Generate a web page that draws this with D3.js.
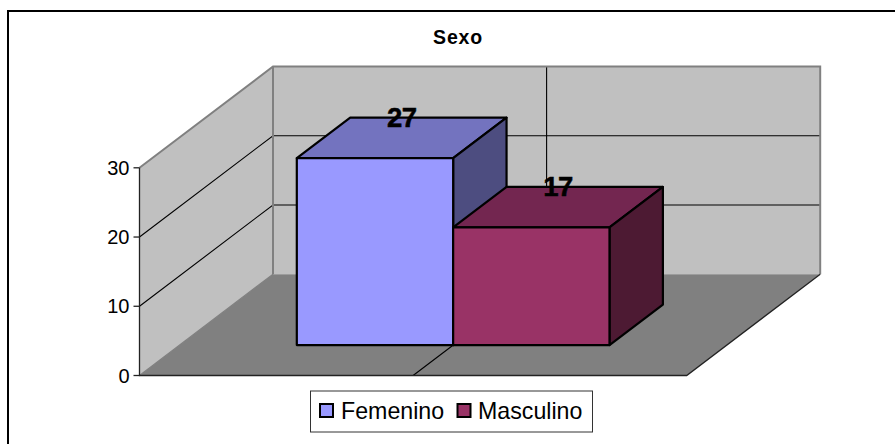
<!DOCTYPE html>
<html><head><meta charset="utf-8">
<script src="https://cdnjs.cloudflare.com/ajax/libs/d3/7.8.5/d3.min.js"></script>
<style>html,body{margin:0;padding:0;background:#fff}svg{display:block}text{font-family:"Liberation Sans",Arial,sans-serif;fill:#000}</style>
</head><body><svg id="c" width="895" height="444"></svg>
<script>
const chartTitle = "Sexo";
const seriesNames = ["Femenino", "Masculino"];
const seriesValues = [27, 17];
const yTicks = [0, 10, 20, 30];
const frontColors = ["#9999ff", "#993366"];
const topColors = ["#7373bf", "#732650"];
const sideColors = ["#4d4d80", "#4d1a33"];

const svg = d3.select("#c");
const y = d3.scaleLinear().domain([0, 30]).range([375.5, 167.8]);
const x = d3.scaleBand().domain(seriesNames).range([139.5, 686.7]).paddingInner(0).paddingOuter(0.75);
const depthX = d3.scaleLinear().domain([0, 1]).range([0, 133.5]);
const depthY = d3.scaleLinear().domain([0, 1]).range([0, -101.3]);
const barDepth = [0.3, 0.7];
const P = (px, v, d) => [px + depthX(d), y(v) + depthY(d)];
const path = pts => d3.line()(pts) + "Z";
const X0 = x.range()[0], X1 = x.range()[1], XM = (X0 + X1) / 2;

// frame (open on the right and bottom)
svg.append("path").attr("d", "M8,444V11H895").attr("fill", "none").attr("stroke", "#000").attr("stroke-width", 2);

// title
svg.append("text").attr("x", 458).attr("y", 44).attr("text-anchor", "middle")
  .attr("font-weight", "bold").attr("font-size", 19.5).attr("letter-spacing", 0.8).text(chartTitle);

// walls and floor
svg.append("path").attr("d", path([P(X0,0,1), P(X1,0,1), P(X1,30,1), P(X0,30,1)])).attr("fill", "#c0c0c0");
svg.append("path").attr("d", path([P(X0,0,0), P(X0,0,1), P(X0,30,1), P(X0,30,0)])).attr("fill", "#c0c0c0");
svg.append("path").attr("d", path([P(X0,0,0), P(X1,0,0), P(X1,0,1), P(X0,0,1)])).attr("fill", "#808080");

// gridlines
const grid = svg.append("g").attr("fill", "none").attr("stroke", "#000").attr("stroke-width", 1.1);
yTicks.filter(t => t > 0 && t < 30).forEach(t => {
  grid.append("path").attr("d", d3.line()([P(X0,t,0), P(X0,t,1), P(X1,t,1)]));
});
grid.append("path").attr("d", d3.line()([P(XM,0,0), P(XM,0,1), P(XM,30,1)]));

// wall outlines
const edge = svg.append("g").attr("fill", "none").attr("stroke", "#808080").attr("stroke-width", 2).attr("stroke-linejoin", "miter");
edge.append("path").attr("d", d3.line()([P(X0,30,0), P(X0,30,1), P(X1,30,1), P(X1,0,1)]));
edge.append("path").attr("d", d3.line()([P(X0,0,1), P(X0,30,1)]));
edge.append("path").attr("d", d3.line()([P(X0,0,0), P(X0,0,1)])).attr("stroke-width", 1.2);

// front axis and floor edge
const ax = svg.append("g").attr("fill", "none").attr("stroke", "#222").attr("stroke-width", 1.3);
ax.append("path").attr("d", d3.line()([P(X0,30,0), P(X0,0,0), P(X1,0,0), P(X1,0,1)]));
yTicks.forEach(t => {
  ax.append("line").attr("x1", X0 - 6).attr("x2", X0).attr("y1", y(t)).attr("y2", y(t));
  svg.append("text").attr("x", 129.5).attr("y", y(t) + 7).attr("text-anchor", "end").attr("font-size", 20).text(t);
});

// bars
seriesNames.forEach((name, i) => {
  const a = x(name), b = a + x.bandwidth(), v = seriesValues[i];
  const g = svg.append("g").attr("stroke", "#000").attr("stroke-width", 2.2).attr("stroke-linejoin", "round");
  const [d0, d1] = barDepth;
  g.append("path").attr("fill", topColors[i]).attr("d", path([P(a,v,d0), P(b,v,d0), P(b,v,d1), P(a,v,d1)]));
  g.append("path").attr("fill", sideColors[i]).attr("d", path([P(b,0,d0), P(b,v,d0), P(b,v,d1), P(b,0,d1)]));
  g.append("path").attr("fill", frontColors[i]).attr("d", path([P(a,0,d0), P(b,0,d0), P(b,v,d0), P(a,v,d0)]));
});

// data labels
seriesNames.forEach((name, i) => {
  const p = P(x(name) + x.bandwidth() / 2, seriesValues[i], barDepth[1]);
  svg.append("text").attr("x", p[0] - depthX(barDepth[1] - barDepth[0]) / 2).attr("y", p[1] + 9)
    .attr("text-anchor", "middle").attr("font-weight", "bold").attr("font-size", 27.5).attr("letter-spacing", -0.5)
    .attr("stroke", "#000").attr("stroke-width", 0.5)
    .text(seriesValues[i]);
});

// legend
svg.append("rect").attr("x", 310.5).attr("y", 391).attr("width", 282).attr("height", 41)
  .attr("fill", "#fff").attr("stroke", "#333").attr("stroke-width", 1);
const swatchX = d3.scaleOrdinal().domain(seriesNames).range([320, 457.5]);
const labelX = d3.scaleOrdinal().domain(seriesNames).range([341, 478]);
seriesNames.forEach((name, i) => {
  svg.append("rect").attr("x", swatchX(name)).attr("y", 404).attr("width", 13).attr("height", 13)
    .attr("fill", frontColors[i]).attr("stroke", "#000").attr("stroke-width", 2);
  svg.append("text").attr("x", labelX(name)).attr("y", 418.5).attr("font-size", 23.2).text(name);
});
</script></body></html>
